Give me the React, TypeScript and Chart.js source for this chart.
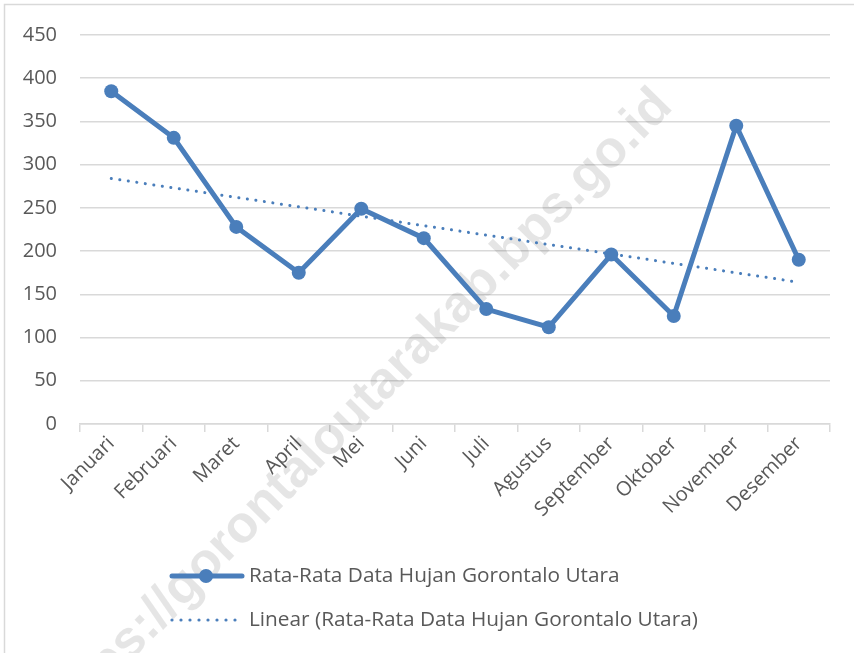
import React, { useEffect, useRef } from "react";
import { Chart, registerables } from "chart.js";

Chart.register(...registerables);

const months = [
  "Januari", "Februari", "Maret", "April", "Mei", "Juni",
  "Juli", "Agustus", "September", "Oktober", "November", "Desember",
];
const rainfall = [385, 331, 228, 175, 249, 215, 133, 112, 196, 125, 345, 190];
// Linear trendline endpoints (Jan and Dec)
const trendEnds = [284, null, null, null, null, null, null, null, null, null, null, 164];
const yTicks = [0, 50, 100, 150, 200, 250, 300, 350, 400, 450];
const seriesName = "Rata-Rata Data Hujan Gorontalo Utara";
const trendName = "Linear (Rata-Rata Data Hujan Gorontalo Utara)";
const watermark = "https://gorontaloutarakab.bps.go.id";

const BLUE = "#4a7ebb";
const GRID = "#d9d9d9";
const TEXT = "#595959";
const FONT = "'Open Sans', 'Noto Sans', sans-serif";

const decorPlugin = {
  id: "decor",
  beforeDatasetsDraw(chart: any) {
    const ctx = chart.ctx;
    ctx.save();
    ctx.translate(664, 98);
    ctx.rotate((-45.5 * Math.PI) / 180);
    ctx.font = "bold 52px 'Liberation Sans', Arial, sans-serif";
    ctx.fillStyle = "rgba(0,0,0,0.10)";
    ctx.textAlign = "right";
    ctx.textBaseline = "middle";
    ctx.fillText(watermark, 0, 0);
    ctx.restore();
  },
  afterDraw(chart: any) {
    const ctx = chart.ctx;
    ctx.save();
    // frame
    ctx.strokeStyle = GRID;
    ctx.lineWidth = 1.5;
    ctx.beginPath();
    ctx.moveTo(4.5, 653);
    ctx.lineTo(4.5, 4.5);
    ctx.lineTo(854, 4.5);
    ctx.stroke();

    // legend
    const y1 = 576;
    const y2 = 620;
    ctx.strokeStyle = BLUE;
    ctx.lineWidth = 5;
    ctx.lineCap = "round";
    ctx.beginPath();
    ctx.moveTo(172, y1);
    ctx.lineTo(242, y1);
    ctx.stroke();
    ctx.fillStyle = BLUE;
    ctx.beginPath();
    ctx.arc(206, y1, 7, 0, Math.PI * 2);
    ctx.fill();
    for (let i = 0; i < 8; i++) {
      ctx.beginPath();
      ctx.arc(172 + i * 9, y2, 1.6, 0, Math.PI * 2);
      ctx.fill();
    }
    ctx.fillStyle = TEXT;
    ctx.font = `20.8px ${FONT}`;
    ctx.textAlign = "left";
    ctx.textBaseline = "middle";
    ctx.fillText(seriesName, 249, y1);
    ctx.fillText(trendName, 249, y2);
    ctx.restore();
  },
};

export default function App() {
  const ref = useRef<HTMLCanvasElement | null>(null);
  useEffect(() => {
    document.body.style.margin = "0";
    const canvas = ref.current!;
    const chart = new Chart(canvas, {
      type: "line",
      data: {
        labels: months,
        datasets: [
          {
            label: seriesName,
            data: rainfall,
            borderColor: BLUE,
            backgroundColor: BLUE,
            borderWidth: 5,
            pointRadius: 7,
            pointBackgroundColor: BLUE,
            pointBorderColor: BLUE,
            pointBorderWidth: 0,
            tension: 0,
            order: 1,
          },
          {
            label: trendName,
            data: trendEnds,
            spanGaps: true,
            borderColor: BLUE,
            borderWidth: 3,
            borderDash: [0.1, 8.5],
            borderCapStyle: "round",
            pointRadius: 0,
            tension: 0,
            order: 2,
          },
        ],
      },
      options: {
        responsive: false,
        animation: false,
        layout: { padding: { left: 0, right: 24, top: 33, bottom: 0 } },
        plugins: {
          legend: { display: false },
          tooltip: { enabled: false },
        },
        scales: {
          x: {
            offset: true,
            grid: {
              offset: true,
              drawOnChartArea: false,
              drawTicks: true,
              tickLength: 8,
              color: GRID,
              lineWidth: 1.5,
            },
            border: { display: true, color: GRID, width: 1.5 },
            ticks: {
              maxRotation: 45,
              minRotation: 45,
              autoSkip: false,
              padding: 0,
              color: TEXT,
              font: { family: FONT, size: 20 },
            },
            afterFit(scale: any) {
              scale.height = 229;
            },
          },
          y: {
            min: 0,
            max: 450,
            afterBuildTicks(scale: any) {
              scale.ticks = yTicks.map((v) => ({ value: v }));
            },
            grid: { color: GRID, lineWidth: 1.5, drawTicks: false },
            border: { display: false },
            ticks: {
              padding: 23,
              color: TEXT,
              font: { family: FONT, size: 20 },
            },
            afterFit(scale: any) {
              scale.width = 80;
            },
          },
        },
      },
      plugins: [decorPlugin],
    } as any);
    return () => chart.destroy();
  }, []);
  return <canvas ref={ref} width={854} height={653} style={{ display: "block" }} />;
}
